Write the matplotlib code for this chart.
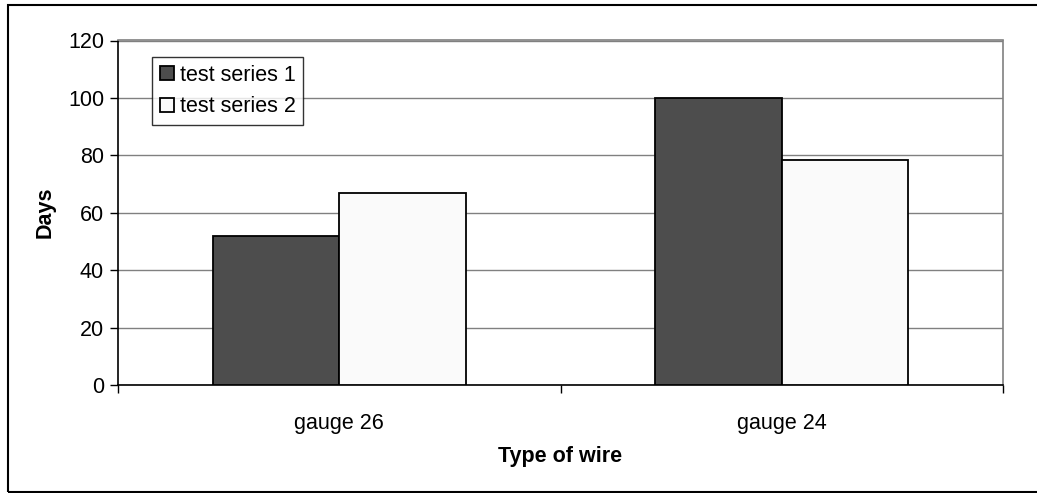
import matplotlib.pyplot as plt
import numpy as np
from matplotlib.patches import Rectangle

plt.rcParams['font.family'] = ['Liberation Sans', 'DejaVu Sans']

# Days survived per wire type
wire_types = ['gauge 26', 'gauge 24']
series_names = ['test series 1', 'test series 2']
series1_days = [52, 100]
series2_days = [67, 78.5]
y_ticks = [0, 20, 40, 60, 80, 100, 120]

fs = 15.5

fig = plt.figure(figsize=(10.37, 4.93), dpi=100)
ax = fig.add_axes([118 / 1037, 108 / 493, 885 / 1037, 344.5 / 493])

x = np.arange(len(wire_types))
width = 1 / 3.5
ax.bar(x - width / 2, series1_days, width, color='#4d4d4d', edgecolor='black',
       linewidth=1.3, label=series_names[0], zorder=3)
ax.bar(x + width / 2, series2_days, width, color='#fafafa', edgecolor='black',
       linewidth=1.3, label=series_names[1], zorder=3)

ax.set_xlim(-0.5, len(wire_types) - 0.5)
ax.set_ylim(0, 120)
ax.set_yticks(y_ticks)
ax.set_yticklabels([str(v) for v in y_ticks], fontsize=fs)
ax.yaxis.grid(True, color='#808080', linewidth=1, zorder=0)

# category labels in the middle, tick marks on the boundaries
ax.set_xticks(x)
ax.set_xticklabels(wire_types, fontsize=fs)
ax.tick_params(axis='x', length=0, pad=20)
ax.set_xticks(np.arange(-0.5, len(wire_types)), minor=True)
ax.tick_params(axis='x', which='minor', length=6, width=1, color='black')
ax.tick_params(axis='y', length=6, width=1, color='black', pad=4)

for side in ['top', 'right']:
    ax.spines[side].set_color('#808080')
    ax.spines[side].set_linewidth(1.2)
for side in ['left', 'bottom']:
    ax.spines[side].set_color('black')
    ax.spines[side].set_linewidth(1.2)

ax.set_xlabel('Type of wire', fontsize=fs, fontweight='bold', labelpad=9)
ax.set_ylabel('Days', fontsize=fs, fontweight='bold', labelpad=9)

leg = ax.legend(loc='upper left', bbox_to_anchor=(152 / 1037, 1 - 57 / 493),
                bbox_transform=fig.transFigure, fontsize=fs, frameon=True,
                fancybox=False, handlelength=0.65, handleheight=0.65,
                handletextpad=0.3, borderpad=0.35, labelspacing=0.5,
                borderaxespad=0)
leg.get_frame().set_edgecolor('black')
leg.get_frame().set_linewidth(1)
leg.set_zorder(5)

# outer chart border (runs off the right edge)
fig.patches.append(Rectangle((7.5 / 1037, 1.5 / 493), 1040 / 1037, 486.5 / 493,
                             transform=fig.transFigure, fill=False,
                             edgecolor='black', linewidth=1.5))

fig.savefig('out.png', dpi=100)
